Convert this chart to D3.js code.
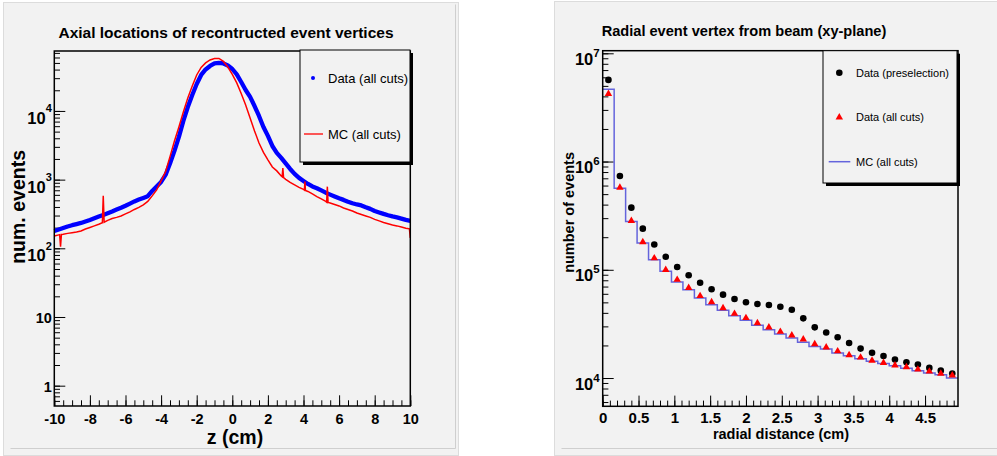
<!DOCTYPE html>
<html>
<head>
<meta charset="utf-8">
<script src="https://cdn.jsdelivr.net/npm/d3@7"></script>
<style>
body { margin: 0; background: #fff; }
svg { display: block; font-family: "Liberation Sans", Arial, Helvetica, sans-serif; }
</style>
</head>
<body>
<svg id="viz" width="997" height="456"></svg>
<script>
// ---- left: axial vertex position (z in cm) ----
var dataZ = [-10,-9.75,-9.5,-9.25,-9,-8.75,-8.5,-8.25,-8,-7.75,-7.5,-7.25,-7,-6.75,-6.5,-6.25,-6,-5.75,-5.5,-5.25,
  -5,-4.75,-4.5,-4.25,-4,-3.75,-3.5,-3.25,-3,-2.75,-2.5,-2.25,-2,-1.75,-1.5,-1.25,-1,-0.75,-0.5,-0.25,
  0,0.25,0.5,0.75,1,1.25,1.5,1.75,2,2.25,2.5,2.75,3,3.25,3.5,3.75,4,4.25,4.5,4.75,
  5,5.25,5.5,5.75,6,6.25,6.5,6.75,7,7.25,7.5,7.75,8,8.25,8.5,8.75,9,9.25,9.5,9.75,10];
var dataCounts = [179,188,198,208,217,225,234,246,259,274,290,306,324,344,367,390,417,448,482,512,
  542,575,684,796,926,1170,1720,2620,4190,7150,11400,17100,24700,33400,40200,45200,49100,50000,49100,45900,
  40800,34000,26400,20200,16000,11800,8460,5850,4330,3090,2450,2070,1720,1430,1210,1060,958,866,796,750,
  697,645,605,569,536,507,477,453,435,421,396,375,350,333,317,303,291,282,271,259,251];

var mcZ = [-10,-9.75,-9.7,-9.65,-9.6,-9.5,-9.25,-9,-8.75,-8.5,-8.25,-8,-7.75,-7.5,-7.3,-7.25,-7.2,-7,-6.75,-6.5,-6.25,
  -6,-5.75,-5.5,-5.25,-5,-4.75,-4.5,-4.25,-4,-3.75,-3.5,-3.25,-3,-2.75,-2.5,-2.25,-2,-1.75,-1.5,-1.25,
  -1,-0.75,-0.5,-0.25,0,0.25,0.5,0.75,1,1.25,1.5,1.75,2,2.25,2.5,2.75,2.8,2.84,2.88,3,3.25,3.5,3.75,
  4,4.05,4.08,4.11,4.25,4.5,4.75,5,5.25,5.3,5.34,5.38,5.5,5.75,6,6.25,6.5,6.75,7,7.25,7.5,7.75,
  8,8.25,8.5,8.75,9,9.25,9.5,9.75,9.95,10];
var mcCounts = [151,157,158,106,159,160,165,169,173,179,191,201,212,224,236,580,240,255,271,282,296,
  317,339,368,394,428,482,580,708,958,1300,2160,3660,5850,9670,15500,23100,33400,43000,50000,55300,
  58100,58100,52600,43600,34000,25600,18000,12200,7910,5120,3420,2490,1940,1530,1340,1130,1100,1470,1070,1010,911,837,770,
  720,705,940,695,673,619,566,524,482,470,790,465,458,435,414,387,368,350,327,311,296,282,
  264,251,238,228,219,212,204,196,192,142];

var leftXTicks = [-10,-8,-6,-4,-2,0,2,4,6,8,10];
var leftYTicks = [1, 10, 100, 1000, 10000];
var leftYLabels = [["1",""],["10",""],["10","2"],["10","3"],["10","4"]];

// ---- right: radial distance from beam (cm), 31 bins of 0.16 cm ----
var binWidth = 0.16;
var preselection = [5.68e6,7.36e5,3.75e5,2.40e5,1.71e5,1.32e5,1.06e5,8.9e4,7.6e4,6.6e4,5.89e4,5.37e4,5.01e4,4.83e4,4.73e4,
  4.56e4,4.28e4,3.56e4,2.94e4,2.63e4,2.38e4,2.11e4,1.87e4,1.71e4,1.60e4,1.48e4,1.40e4,1.33e4,1.24e4,1.17e4,1.10e4];
var allCuts = [4.22e6,5.74e5,2.83e5,1.80e5,1.28e5,1.00e5,8.1e4,6.8e4,5.73e4,5.04e4,4.43e4,3.93e4,3.59e4,3.22e4,2.94e4,
  2.68e4,2.48e4,2.28e4,2.06e4,1.92e4,1.77e4,1.63e4,1.55e4,1.45e4,1.38e4,1.31e4,1.26e4,1.20e4,1.15e4,1.10e4,1.06e4];
var mcAllCuts = [4.66e6,5.66e5,2.79e5,1.77e5,1.24e5,9.68e4,7.71e4,6.55e4,5.48e4,4.75e4,4.22e4,3.77e4,3.41e4,3.07e4,2.80e4,
  2.55e4,2.34e4,2.14e4,1.96e4,1.85e4,1.70e4,1.61e4,1.51e4,1.43e4,1.36e4,1.30e4,1.23e4,1.17e4,1.11e4,1.07e4,1.00e4];

var rightXTicks = [0,0.5,1,1.5,2,2.5,3,3.5,4,4.5];
var rightYTicks = [1e4, 1e5, 1e6, 1e7];
var rightYLabels = [["10","4"],["10","5"],["10","6"],["10","7"]];

var svg = d3.select("#viz");
var bgCol = "#f2f2f2";

function canvasPad(x0, y0, x1, y1) {
  svg.append("rect").attr("x", x0).attr("y", y0).attr("width", x1 - x0).attr("height", y1 - y0)
    .attr("fill", bgCol).attr("stroke", "#dcdcdc");
  svg.append("line").attr("x1", x0 + 7).attr("x2", x1 - 3).attr("y1", y1 - 7).attr("y2", y1 - 7)
    .attr("stroke", "#cfcfcf");
  svg.append("line").attr("x1", x1 - 3).attr("x2", x1 - 3).attr("y1", y0 + 2).attr("y2", y1 - 7)
    .attr("stroke", "#cfcfcf");
}
canvasPad(3.5, 2.5, 458.5, 455.5);
canvasPad(554.5, 1.5, 1003, 455.5);

function minorLog(lo, hi) {
  var out = [];
  for (var e = -1; e <= 7; e++) {
    for (var m = 1; m <= 9; m++) {
      var v = m * Math.pow(10, e);
      if (v >= lo && v <= hi) out.push(v);
    }
  }
  return out;
}

function styleAxis(g) {
  g.select(".domain").remove();
  g.selectAll(".tick line").attr("stroke", "#000").attr("stroke-width", 1);
}

function supLabels(g, labels, baseSize, expSize, baseDy, expDy) {
  g.selectAll(".tick text").each(function(d, i) {
    var t = d3.select(this).text(null).attr("dy", null).attr("y", baseDy)
      .attr("font-weight", "bold").attr("fill", "#000");
    var lab = labels[i];
    if (lab[1] === "") {
      t.attr("y", baseDy - 6.5).append("tspan").attr("font-size", baseSize - 2).text(lab[0]);
    } else {
      t.append("tspan").attr("font-size", baseSize).text(lab[0]);
      t.append("tspan").attr("font-size", expSize).attr("dy", expDy).text(lab[1]);
    }
  });
}

// ================= LEFT PANEL =================
var L = {left: 54.3, right: 410.3, top: 51, bottom: 406};
var xL = d3.scaleLinear().domain([-10, 10]).range([L.left, L.right]);
var yL = d3.scaleLog().domain([0.506, 74600]).range([L.bottom, L.top]);

svg.append("clipPath").attr("id", "clipL").append("rect")
  .attr("x", L.left - 2).attr("y", L.top).attr("width", L.right - L.left + 2).attr("height", L.bottom - L.top);

var gL = svg.append("g");

gL.append("g").attr("transform", "translate(0," + L.bottom + ")")
  .call(d3.axisBottom(xL).tickValues(d3.range(-10, 10.01, 0.5)).tickSizeInner(-5.7).tickSizeOuter(0).tickFormat(""))
  .call(styleAxis);
var xAxL = gL.append("g").attr("transform", "translate(0," + L.bottom + ")")
  .call(d3.axisBottom(xL).tickValues(leftXTicks).tickSizeInner(-10.7).tickSizeOuter(0).tickFormat(function(d) { return String(d); }))
  .call(styleAxis);
xAxL.selectAll(".tick text").attr("y", 17.5).attr("dy", null).attr("font-size", 14.5)
  .attr("font-weight", "bold").attr("fill", "#000");
xAxL.attr("font-family", null);

gL.append("g").attr("transform", "translate(" + L.left + ",0)")
  .call(d3.axisLeft(yL).tickValues(minorLog(0.506, 74600)).tickSizeInner(-5.7).tickSizeOuter(0).tickFormat(""))
  .call(styleAxis);
var yAxL = gL.append("g").attr("transform", "translate(" + L.left + ",0)")
  .call(d3.axisLeft(yL).tickValues(leftYTicks).tickSizeInner(-11).tickSizeOuter(0).tickPadding(2.5))
  .call(styleAxis);
yAxL.attr("font-family", null);
supLabels(yAxL, leftYLabels, 16.5, 11, 12.5, -11.5);

var lineL = d3.line().x(function(d) { return xL(d[0]); }).y(function(d) { return yL(d[1]); });
var plotL = gL.append("g").attr("clip-path", "url(#clipL)");
plotL.append("path").datum(d3.zip(dataZ, dataCounts)).attr("d", lineL)
  .attr("fill", "none").attr("stroke", "#0000ff").attr("stroke-width", 4.3).attr("stroke-linejoin", "round");
plotL.append("path").datum(d3.zip(mcZ, mcCounts)).attr("d", lineL)
  .attr("fill", "none").attr("stroke", "#ff0000").attr("stroke-width", 1.5);

gL.append("rect").attr("x", L.left).attr("y", L.top).attr("width", L.right - L.left).attr("height", L.bottom - L.top)
  .attr("fill", "none").attr("stroke", "#000").attr("stroke-width", 1.5);

// legend
gL.append("rect").attr("x", 303).attr("y", 53).attr("width", 110).attr("height", 112).attr("fill", "#000");
gL.append("rect").attr("x", 300).attr("y", 50).attr("width", 110).attr("height", 112)
  .attr("fill", bgCol).attr("stroke", "#000").attr("stroke-width", 1);
gL.append("circle").attr("cx", 313).attr("cy", 78).attr("r", 2).attr("fill", "#0000ff");
gL.append("text").attr("x", 328).attr("y", 82.5).attr("font-size", 13).text("Data (all cuts)");
gL.append("line").attr("x1", 304).attr("x2", 323).attr("y1", 134).attr("y2", 134).attr("stroke", "#ff0000").attr("stroke-width", 1.3);
gL.append("text").attr("x", 328).attr("y", 138.5).attr("font-size", 13).text("MC (all cuts)");

// titles
gL.append("text").attr("x", 226).attr("y", 37.5).attr("text-anchor", "middle").attr("font-size", 15.5)
  .attr("font-weight", "bold").text("Axial locations of recontructed event vertices");
gL.append("text").attr("x", 235).attr("y", 443.5).attr("text-anchor", "middle").attr("font-size", 19.5)
  .attr("font-weight", "bold").text("z (cm)");
gL.append("text").attr("transform", "translate(24.5,150) rotate(-90)").attr("text-anchor", "end")
  .attr("font-size", 19.5).attr("font-weight", "bold").text("num. events");

// ================= RIGHT PANEL =================
var R = {left: 602.7, right: 958, top: 50.7, bottom: 406.3};
var xR = d3.scaleLinear().domain([0, 4.96]).range([R.left, R.right]);
var yR = d3.scaleLog().domain([5480, 1.057e7]).range([R.bottom, R.top]);

svg.append("clipPath").attr("id", "clipR").append("rect")
  .attr("x", R.left).attr("y", R.top).attr("width", R.right - R.left).attr("height", R.bottom - R.top);

var gR = svg.append("g");

gR.append("g").attr("transform", "translate(0," + R.bottom + ")")
  .call(d3.axisBottom(xR).tickValues(d3.range(0, 4.95, 0.1)).tickSizeInner(-5.7).tickSizeOuter(0).tickFormat(""))
  .call(styleAxis);
var xAxR = gR.append("g").attr("transform", "translate(0," + R.bottom + ")")
  .call(d3.axisBottom(xR).tickValues(rightXTicks).tickSizeInner(-10.7).tickSizeOuter(0).tickFormat(function(d) { return String(d); }))
  .call(styleAxis);
xAxR.attr("font-family", null);
xAxR.selectAll(".tick text").attr("y", 16.7).attr("dy", null).attr("font-size", 15)
  .attr("font-weight", "bold").attr("fill", "#000");

gR.append("g").attr("transform", "translate(" + R.left + ",0)")
  .call(d3.axisLeft(yR).tickValues(minorLog(5480, 1.057e7)).tickSizeInner(-5.7).tickSizeOuter(0).tickFormat(""))
  .call(styleAxis);
var yAxR = gR.append("g").attr("transform", "translate(" + R.left + ",0)")
  .call(d3.axisLeft(yR).tickValues(rightYTicks).tickSizeInner(-11).tickSizeOuter(0).tickPadding(3))
  .call(styleAxis);
yAxR.attr("font-family", null);
supLabels(yAxR, rightYLabels, 16.5, 11.5, 11, -8);

var plotR = gR.append("g").attr("clip-path", "url(#clipR)");
var edges = d3.range(mcAllCuts.length + 1).map(function(k) { return k * binWidth; });
var stepData = edges.map(function(e, k) { return [e, mcAllCuts[Math.min(k, mcAllCuts.length - 1)]]; });
plotR.append("path").datum(stepData)
  .attr("d", d3.line().curve(d3.curveStepAfter).x(function(d) { return xR(d[0]); }).y(function(d) { return yR(d[1]); }))
  .attr("fill", "none").attr("stroke", "#6464dc").attr("stroke-width", 1.5);

function binCenter(i) { return (i + 0.5) * binWidth; }
plotR.selectAll("circle.pre").data(preselection).enter().append("circle").attr("class", "pre")
  .attr("cx", function(d, i) { return xR(binCenter(i)); })
  .attr("cy", function(d) { return yR(d); })
  .attr("r", 3.3).attr("fill", "#000");
var tri = d3.symbol().type(d3.symbolTriangle).size(24);
plotR.selectAll("path.cut").data(allCuts).enter().append("path").attr("class", "cut")
  .attr("d", tri)
  .attr("transform", function(d, i) { return "translate(" + xR(binCenter(i)) + "," + yR(d) + ")"; })
  .attr("fill", "#ff0000");

gR.append("rect").attr("x", R.left).attr("y", R.top).attr("width", R.right - R.left).attr("height", R.bottom - R.top)
  .attr("fill", "none").attr("stroke", "#000").attr("stroke-width", 1.5);

// legend
gR.append("rect").attr("x", 826).attr("y", 53.7).attr("width", 134).attr("height", 132.3).attr("fill", "#000");
gR.append("rect").attr("x", 823).attr("y", 50.7).attr("width", 134).attr("height", 132.3)
  .attr("fill", bgCol).attr("stroke", "#000").attr("stroke-width", 1);
gR.append("circle").attr("cx", 839.3).attr("cy", 72.7).attr("r", 3.3).attr("fill", "#000");
gR.append("text").attr("x", 856).attr("y", 76.8).attr("font-size", 11).text("Data (preselection)");
gR.append("path").attr("d", tri).attr("transform", "translate(839.3,117.3)").attr("fill", "#ff0000");
gR.append("text").attr("x", 856).attr("y", 121.2).attr("font-size", 11).text("Data (all cuts)");
gR.append("line").attr("x1", 828.7).attr("x2", 850.3).attr("y1", 161.7).attr("y2", 161.7)
  .attr("stroke", "#6464dc").attr("stroke-width", 1.5);
gR.append("text").attr("x", 856).attr("y", 165.5).attr("font-size", 11).text("MC (all cuts)");

// titles
gR.append("text").attr("x", 744).attr("y", 36).attr("text-anchor", "middle").attr("font-size", 14.6)
  .attr("font-weight", "bold").text("Radial event vertex from beam (xy-plane)");
gR.append("text").attr("x", 781).attr("y", 438.5).attr("text-anchor", "middle").attr("font-size", 14.5)
  .attr("font-weight", "bold").text("radial distance (cm)");
gR.append("text").attr("transform", "translate(573.5,152) rotate(-90)").attr("text-anchor", "end")
  .attr("font-size", 14.5).attr("font-weight", "bold").text("number of events");
</script>
</body>
</html>
